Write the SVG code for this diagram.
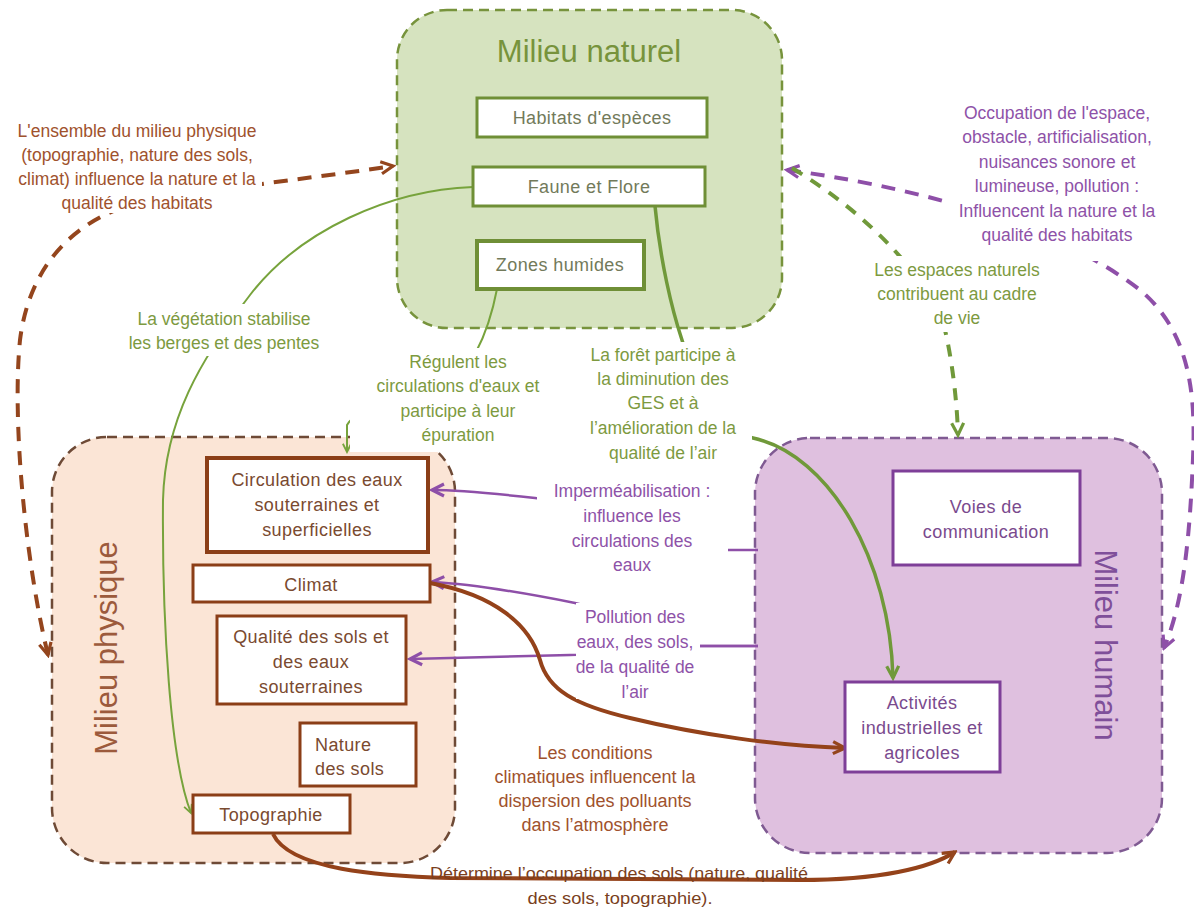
<svg xmlns="http://www.w3.org/2000/svg" width="1194" height="909" viewBox="0 0 1194 909">
<style>
text{font-family:"Liberation Sans",Arial,sans-serif;text-anchor:middle}
.bg{fill:#ffffff;stroke:none}
.title{font-size:31px}
.bt{font-size:18px;letter-spacing:0.4px}
.lb{font-size:17.5px}
.gn{fill:#7d9a3f}
.pp{fill:#8e52a8}
.br{fill:#a0522d}
.cont{stroke-width:2.5;stroke-dasharray:10 6}
</style>
<defs>
<marker id="ah-br" viewBox="0 0 12 12" refX="10" refY="6" markerWidth="16" markerHeight="16" markerUnits="userSpaceOnUse" orient="auto-start-reverse"><path d="M1,1.5 L10,6 L1,10.5" fill="none" stroke="#94451d" stroke-width="2.4"/></marker>
<marker id="ah-pp" viewBox="0 0 12 12" refX="10" refY="6" markerWidth="16" markerHeight="16" markerUnits="userSpaceOnUse" orient="auto-start-reverse"><path d="M1,1.5 L10,6 L1,10.5" fill="none" stroke="#8e4fa8" stroke-width="2.4"/></marker>
<marker id="ah-gn" viewBox="0 0 12 12" refX="10" refY="6" markerWidth="16" markerHeight="16" markerUnits="userSpaceOnUse" orient="auto-start-reverse"><path d="M1,1.5 L10,6 L1,10.5" fill="none" stroke="#70993a" stroke-width="2.4"/></marker>
<marker id="ah-gs" viewBox="0 0 12 12" refX="10" refY="6" markerWidth="11" markerHeight="11" markerUnits="userSpaceOnUse" orient="auto"><path d="M1,1.5 L10,6 L1,10.5" fill="none" stroke="#77a33c" stroke-width="2"/></marker>
</defs>
<rect width="1194" height="909" fill="#ffffff"/>

<!-- containers -->
<g id="milieu-naturel">
<rect class="cont" x="397" y="10" width="385" height="318" rx="50" fill="#d6e3bf" stroke="#77933c"/>
<text class="title" x="589" y="62" fill="#77933c">Milieu naturel</text>
</g>
<g id="milieu-physique">
<rect class="cont" x="52" y="437" width="403" height="426" rx="55" fill="#fbe5d6" stroke="#6e4a36"/>
<text class="title" transform="translate(117,648) rotate(-90)" fill="#9c5a3c">Milieu physique</text>
</g>
<g id="milieu-humain">
<rect class="cont" x="755" y="438" width="407" height="415" rx="55" fill="#dfc0df" stroke="#7f5a92"/>
<text class="title" transform="translate(1095,645) rotate(90)" fill="#7f4f9a">Milieu humain</text>
</g>

<!-- connectors -->
<g id="connectors" fill="none" stroke-linecap="butt">
<path d="M48 655 C25 560 12 420 20 340 C30 260 80 220 130 205 C200 190 300 180 393 166" stroke="#94451d" stroke-width="4" stroke-dasharray="14 10" marker-start="url(#ah-br)" marker-end="url(#ah-br)"/>
<path d="M787 170 C900 185 1050 220 1140 290 C1200 340 1195 420 1192 480 C1188 560 1180 610 1164 648" stroke="#8e4fa8" stroke-width="4" stroke-dasharray="14 10" marker-start="url(#ah-pp)" marker-end="url(#ah-pp)"/>
<path d="M792 168 C870 215 930 280 945 330 C952 360 957 400 958 435" stroke="#70993a" stroke-width="4" stroke-dasharray="12 10" marker-end="url(#ah-gn)"/>
<path d="M473 187 C390 190 300 230 250 295 C200 360 165 420 163 500 C162 620 170 760 191 813" stroke="#77a33c" stroke-width="2" marker-end="url(#ah-gs)"/>
<path d="M497 289 C492 315 485 335 476 352 C440 400 360 400 347 425 L347 452" stroke="#77a33c" stroke-width="2" marker-end="url(#ah-gs)"/>
<path d="M655 206 C660 260 672 310 682 340 C700 400 720 430 753 438 C830 455 890 560 893 678" stroke="#70993a" stroke-width="3.5" marker-end="url(#ah-gn)"/>
<path d="M758 550 L727 550 C680 545 600 505 535 498 C490 493 460 490 432 490" stroke="#8e4fa8" stroke-width="2.5" marker-end="url(#ah-pp)"/>
<path d="M758 646 L700 646 C650 640 610 610 575 603 C520 592 470 584 432 582" stroke="#8e4fa8" stroke-width="2.5" marker-end="url(#ah-pp)"/>
<path d="M758 646 L700 646 C650 650 600 655 570 655 L410 659" stroke="#8e4fa8" stroke-width="2.5" marker-end="url(#ah-pp)"/>
<path d="M430 583 C495 595 530 625 540 660 C548 690 575 705 630 718 C700 735 780 746 845 748" stroke="#94421a" stroke-width="4" marker-end="url(#ah-br)"/>
<path d="M273 834 C290 870 380 876 450 878 L800 880 C880 880 930 868 955 852" stroke="#94421a" stroke-width="4" marker-end="url(#ah-br)"/>
</g>

<!-- nodes: milieu naturel -->
<g id="habitats">
<rect x="477" y="98" width="230" height="39" fill="#fff" stroke="#6f8f36" stroke-width="3"/>
<text class="bt" x="592" y="124" fill="#727a5a">Habitats d'espèces</text>
</g>
<g id="faune-flore">
<rect x="473" y="167" width="232" height="39" fill="#fff" stroke="#6f8f36" stroke-width="3"/>
<text class="bt" x="589" y="193" fill="#727a5a">Faune et Flore</text>
</g>
<g id="zones-humides">
<rect x="477" y="241" width="167" height="48" fill="#fff" stroke="#6f8f36" stroke-width="4"/>
<text class="bt" x="560" y="271" fill="#727a5a">Zones humides</text>
</g>

<!-- nodes: milieu physique -->
<g id="circulation">
<rect x="207" y="458" width="221" height="94" fill="#fff" stroke="#8b3e17" stroke-width="4"/>
<text class="bt" x="317" y="486" fill="#7a4a30">Circulation des eaux</text>
<text class="bt" x="317" y="511" fill="#7a4a30">souterraines et</text>
<text class="bt" x="317" y="536" fill="#7a4a30">superficielles</text>
</g>
<g id="climat">
<rect x="193" y="565" width="237" height="37" fill="#fff" stroke="#8b3e17" stroke-width="3"/>
<text class="bt" x="311" y="591" fill="#7a4a30">Climat</text>
</g>
<g id="qualite-sols">
<rect x="217" y="616" width="189" height="88" fill="#fff" stroke="#8b3e17" stroke-width="3"/>
<text class="bt" x="311" y="643" fill="#7a4a30">Qualité des sols et</text>
<text class="bt" x="311" y="668" fill="#7a4a30">des eaux</text>
<text class="bt" x="311" y="693" fill="#7a4a30">souterraines</text>
</g>
<g id="nature-sols">
<rect x="300" y="723" width="116" height="63" fill="#fff" stroke="#8b3e17" stroke-width="3"/>
<text class="bt" x="315" y="751" fill="#7a4a30" style="text-anchor:start">Nature</text>
<text class="bt" x="315" y="775" fill="#7a4a30" style="text-anchor:start">des sols</text>
</g>
<g id="topographie">
<rect x="193" y="795" width="157" height="38" fill="#fff" stroke="#8b3e17" stroke-width="3"/>
<text class="bt" x="271" y="821" fill="#7a4a30">Topographie</text>
</g>

<!-- nodes: milieu humain -->
<g id="voies">
<rect x="893" y="471" width="187" height="94" fill="#fff" stroke="#7e3f98" stroke-width="3"/>
<text class="bt" x="986" y="513" fill="#7a4a8e">Voies de</text>
<text class="bt" x="986" y="538" fill="#7a4a8e">communication</text>
</g>
<g id="activites">
<rect x="845" y="682" width="155" height="90" fill="#fff" stroke="#7e3f98" stroke-width="3"/>
<text class="bt" x="922" y="709" fill="#7a4a8e">Activités</text>
<text class="bt" x="922" y="734" fill="#7a4a8e">industrielles et</text>
<text class="bt" x="922" y="759" fill="#7a4a8e">agricoles</text>
</g>

<!-- labels -->
<g id="label-ensemble">
<rect class="bg" x="0" y="112" width="262" height="101"/>
<text class="lb br" x="137" y="137">L'ensemble du milieu physique</text>
<text class="lb br" x="137" y="161">(topographie, nature des sols,</text>
<text class="lb br" x="137" y="185">climat) influence la nature et la</text>
<text class="lb br" x="137" y="209">qualité des habitats</text>
</g>
<g id="label-occupation">
<rect class="bg" x="948" y="98" width="217" height="163"/>
<text class="lb pp" x="1057" y="119">Occupation de l'espace,</text>
<text class="lb pp" x="1057" y="143">obstacle, artificialisation,</text>
<text class="lb pp" x="1057" y="168">nuisances sonore et</text>
<text class="lb pp" x="1057" y="192">lumineuse, pollution :</text>
<text class="lb pp" x="1057" y="217">Influencent la nature et la</text>
<text class="lb pp" x="1057" y="241">qualité des habitats</text>
</g>
<g id="label-espaces">
<rect class="bg" x="868" y="256" width="180" height="76"/>
<text class="lb gn" x="957" y="276">Les espaces naturels</text>
<text class="lb gn" x="957" y="300">contribuent au cadre</text>
<text class="lb gn" x="957" y="324">de vie</text>
</g>
<g id="label-vegetation">
<rect class="bg" x="126" y="304" width="198" height="52"/>
<text class="lb gn" x="224" y="325">La végétation stabilise</text>
<text class="lb gn" x="224" y="349">les berges et des pentes</text>
</g>
<g id="label-regulent">
<rect class="bg" x="350" y="348" width="194" height="104"/>
<text class="lb gn" x="458" y="368">Régulent les</text>
<text class="lb gn" x="458" y="392">circulations d'eaux et</text>
<text class="lb gn" x="458" y="417">participe à leur</text>
<text class="lb gn" x="458" y="441">épuration</text>
</g>
<g id="label-foret">
<rect class="bg" x="563" y="342" width="189" height="124"/>
<text class="lb gn" x="663" y="361">La forêt participe à</text>
<text class="lb gn" x="663" y="385">la diminution des</text>
<text class="lb gn" x="663" y="409">GES et à</text>
<text class="lb gn" x="663" y="434">l’amélioration de la</text>
<text class="lb gn" x="663" y="459">qualité de l’air</text>
</g>
<g id="label-impermeabilisation">
<rect class="bg" x="537" y="478" width="191" height="97"/>
<text class="lb pp" x="632" y="497">Imperméabilisation :</text>
<text class="lb pp" x="632" y="522">influence les</text>
<text class="lb pp" x="632" y="547">circulations des</text>
<text class="lb pp" x="632" y="571">eaux</text>
</g>
<g id="label-pollution">
<rect class="bg" x="576" y="603" width="124" height="96"/>
<text class="lb pp" x="635" y="623">Pollution des</text>
<text class="lb pp" x="635" y="648">eaux, des sols,</text>
<text class="lb pp" x="635" y="673">de la qualité de</text>
<text class="lb pp" x="635" y="698">l’air</text>
</g>
<g id="label-conditions">
<text class="br" style="font-size:18px" x="595" y="759">Les conditions</text>
<text class="br" style="font-size:18px" x="595" y="783">climatiques influencent la</text>
<text class="br" style="font-size:18px" x="595" y="807">dispersion des polluants</text>
<text class="br" style="font-size:18px" x="595" y="831">dans l’atmosphère</text>
</g>
<g id="label-determine">
<text x="619" y="879" fill="#7a3f1d" style="font-size:17px" textLength="378" lengthAdjust="spacingAndGlyphs">Détermine l’occupation des sols (nature, qualité</text>
<text x="620" y="904" fill="#7a3f1d" style="font-size:17px" textLength="185" lengthAdjust="spacingAndGlyphs">des sols, topographie).</text>
</g>
</svg>
